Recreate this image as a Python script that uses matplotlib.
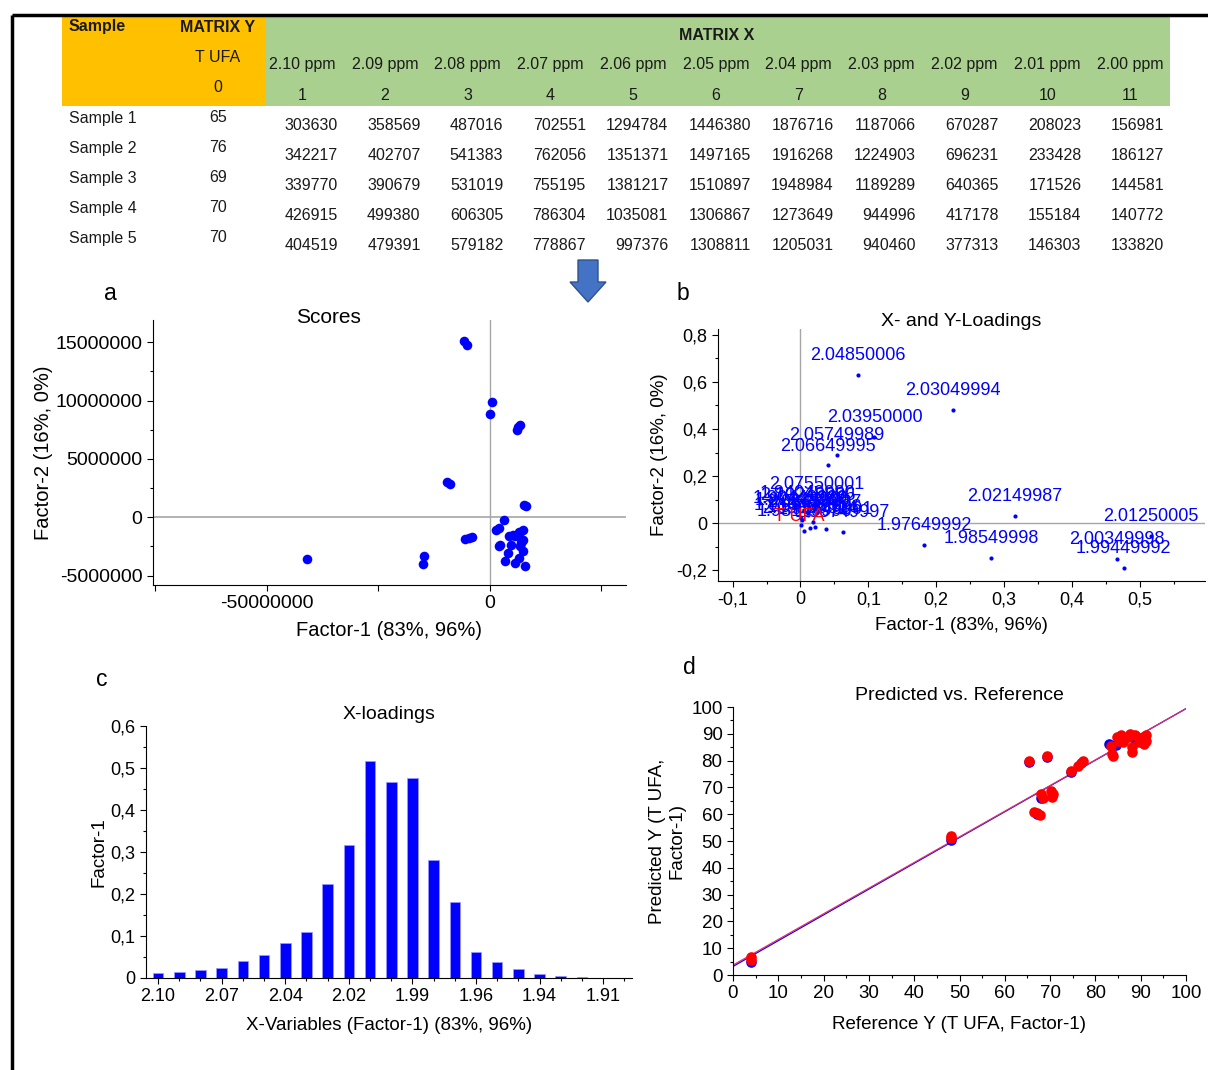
import matplotlib
matplotlib.use('Agg')
import matplotlib.pyplot as plt
import numpy as np
from matplotlib.patches import Rectangle, Polygon
from matplotlib.ticker import MultipleLocator, FixedLocator, FuncFormatter

plt.rcParams['font.family'] = ['Liberation Sans', 'DejaVu Sans']

# ---- table data
table_ppm = ['2.10 ppm', '2.09 ppm', '2.08 ppm', '2.07 ppm', '2.06 ppm', '2.05 ppm',
             '2.04 ppm', '2.03 ppm', '2.02 ppm', '2.01 ppm', '2.00 ppm']
table_samples = ['Sample 1', 'Sample 2', 'Sample 3', 'Sample 4', 'Sample 5']
table_tufa = [65, 76, 69, 70, 70]
table_x = [
    [303630, 358569, 487016, 702551, 1294784, 1446380, 1876716, 1187066, 670287, 208023, 156981],
    [342217, 402707, 541383, 762056, 1351371, 1497165, 1916268, 1224903, 696231, 233428, 186127],
    [339770, 390679, 531019, 755195, 1381217, 1510897, 1948984, 1189289, 640365, 171526, 144581],
    [426915, 499380, 606305, 786304, 1035081, 1306867, 1273649, 944996, 417178, 155184, 140772],
    [404519, 479391, 579182, 778867, 997376, 1308811, 1205031, 940460, 377313, 146303, 133820],
]

# ---- a: scores (millions)
scores_f1 = np.array([-5.78, -5.16, 0.44, 0.0, 6.85, 6.05, 6.3, -9.52, -8.99, 7.83, 8.19, 3.20,
                      2.05, 1.42, -5.43, -4.0, -4.7, -14.68, -15.04, -40.93,
                      4.45, 5.34, 6.49, 7.56, 6.94, 7.56, 4.89, 6.85, 7.56, 4.18, 6.49, 3.56,
                      5.78, 8.01, 2.05, 2.4, 5.78, 7.12]) * 1e6
scores_f2 = np.array([15.06, 14.8, 9.86, 8.86, 7.91, 7.51, 7.7, 3.06, 2.83, 1.09, 0.97, -0.26,
                      -0.91, -1.09, -1.86, -1.71, -1.78, -3.34, -3.97, -3.57,
                      -1.63, -1.49, -1.29, -1.11, -1.86, -1.91, -2.34, -2.49, -2.91, -3.06, -3.49, -3.77,
                      -3.91, -4.2, -2.49, -2.34, -1.63, -2.2]) * 1e6

# ---- b, c: x-loadings
variables = ['2.10249996', '2.09350014', '2.08450007', '2.07550001', '2.06649995', '2.05749989',
             '2.04850006', '2.03950000', '2.03049994', '2.02149987', '2.01250005', '2.00349998',
             '1.99449992', '1.98549998', '1.97649992', '1.96749997', '1.95849991', '1.94949996',
             '1.94049990', '1.93149996', '1.92249990', '1.91349995', '1.90449989']
load_f1 = [0.011, 0.0135, 0.019, 0.0235, 0.041, 0.054, 0.0845, 0.109, 0.224, 0.316, 0.516, 0.466,
           0.476, 0.281, 0.182, 0.062, 0.037, 0.021, 0.0104, 0.0056, 0.0024, 0.001, 0.0005]
load_f2 = [0.036, -0.022, 0.006, 0.081, 0.245, 0.291, 0.628, 0.366, 0.479, 0.031, -0.052, -0.152,
           -0.191, -0.148, -0.092, -0.038, -0.024, -0.017, 0.042, -0.032, 0.014, -0.008, 0.022]
y_loading = ('T UFA', -0.002, -0.055)
c_ticklabels = ['2.10', '2.07', '2.04', '2.02', '1.99', '1.96', '1.94', '1.91']

# ---- d: predicted vs reference
ref_cal = [3.9, 48.1, 65.3, 69.4, 68.1, 83.0, 84.5, 88.5, 90.5, 67.0, 74.6]
pred_cal = [5.0, 50.3, 79.6, 81.5, 65.9, 86.2, 86.0, 88.5, 88.0, 60.0, 75.8]
ref_val = [3.9, 3.9, 48.1, 48.1, 65.3, 69.4, 66.5, 67.2, 67.7, 68.1, 68.5, 70.2, 70.7, 70.5, 74.6,
           76.2, 76.8, 77.3, 83.4, 83.6, 83.8, 84.8, 85.6, 86.0, 87.2, 87.7, 88.0, 88.0, 88.8,
           89.6, 90.4, 90.8, 91.2, 91.2, 85.2, 86.5]
pred_val = [6.6, 5.6, 51.9, 51.0, 80.0, 81.9, 61.0, 60.3, 59.8, 67.5, 66.2, 68.8, 67.5, 66.5, 76.2,
            78.1, 79.2, 79.8, 85.5, 82.5, 81.9, 88.8, 89.4, 86.9, 88.8, 90.0, 83.1, 85.0, 89.4,
            86.9, 88.8, 86.2, 89.4, 87.5, 87.5, 88.5]
cal_fit = (0.962, 3.2)
val_fit = (0.957, 3.7)

W, H = 1208, 1070
fig = plt.figure(figsize=(W / 100, H / 100), dpi=100)


def box(l, t, r, b):
    return [l / W, 1 - b / H, (r - l) / W, (b - t) / H]


def comma(v, pos=None):
    if abs(v) < 1e-9:
        return '0'
    return f'{v:.1f}'.replace('.', ',')


# ---- background layer: frame, table, arrow
bg = fig.add_axes([0, 0, 1, 1])
bg.set_xlim(0, W)
bg.set_ylim(H, 0)
bg.axis('off')
bg.plot([12, W], [15, 15], c='k', lw=2.5, solid_capstyle='butt')
bg.plot([12, 12], [15, H], c='k', lw=2.5, solid_capstyle='butt')
bg.add_patch(Rectangle((62, 17), 203, 89, fc='#FFC000', ec='none'))
bg.add_patch(Rectangle((265, 17), 905, 89, fc='#A9D08E', ec='none'))
tk = dict(fontsize=11.5, va='center', color='#1a1a1a')
bg.text(69, 27, 'Sample', fontweight='bold', ha='left', **tk)
bg.text(218, 27, 'MATRIX Y', fontweight='bold', ha='center', **tk)
bg.text(218, 57, 'T UFA', ha='center', **tk)
bg.text(218, 88, '0', ha='center', **tk)
bg.text(717, 35, 'MATRIX X', fontweight='bold', ha='center', **tk)
col_c = np.linspace(302, 1130, len(table_ppm))
col_r = np.linspace(338, 1164, len(table_ppm))
for j, lab in enumerate(table_ppm):
    bg.text(col_c[j], 65, lab, ha='center', **tk)
    bg.text(col_c[j], 95, str(j + 1), ha='center', **tk)
for i, s in enumerate(table_samples):
    bg.text(69, 118 + 30 * i, s, ha='left', **tk)
    bg.text(218, 118 + 30 * i, str(table_tufa[i]), ha='center', **tk)
    for j, v in enumerate(table_x[i]):
        bg.text(col_r[j], 125 + 30 * i, str(v), ha='right', **tk)
bg.add_patch(Polygon([(578, 260), (598, 260), (598, 282), (606, 282), (588, 302), (570, 282), (578, 282)],
                     closed=True, fc='#4472C4', ec='#2F528F', lw=1))
for lab, (x, y) in zip('abcd', [(110, 294), (683, 294), (102, 679), (689, 667)]):
    bg.text(x, y, lab, fontsize=16.5, ha='center', va='center')


def style(ax, size):
    for s in ('top', 'right'):
        ax.spines[s].set_visible(False)
    ax.tick_params(labelsize=size, length=4, width=0.8)
    ax.tick_params(which='minor', length=2.5, width=0.8)


# ---- a
ax = fig.add_axes(box(153, 320, 626, 585))
style(ax, 14)
ax.axhline(0, c='0.65', lw=1.2, zorder=1)
ax.axvline(0, c='0.65', lw=1, zorder=1)
ax.scatter(scores_f1, scores_f2, s=48, c='#0000FF', zorder=3, linewidths=0)
ax.set_xlim(-75.5e6, 30.6e6)
ax.set_ylim(-5.8e6, 16.9e6)
ax.xaxis.set_major_locator(MultipleLocator(25e6))
ax.xaxis.set_major_formatter(FuncFormatter(lambda v, p: f'{v:.0f}' if v in (-50e6, 0) else ''))
ax.yaxis.set_major_locator(MultipleLocator(5e6))
ax.yaxis.set_minor_locator(MultipleLocator(2.5e6))
ax.yaxis.set_major_formatter(FuncFormatter(lambda v, p: f'{v:.0f}'))
ax.set_title('Scores', fontsize=15, x=0.37, y=1.011, pad=0, va='center')
ax.set_xlabel('Factor-1 (83%, 96%)', fontsize=14.5, labelpad=6)
ax.set_ylabel('Factor-2 (16%, 0%)', fontsize=14.5, labelpad=2)

# ---- b
ax = fig.add_axes(box(718, 329, 1205, 581))
style(ax, 13)
ax.axhline(0, c='0.65', lw=1, zorder=1)
ax.axvline(0, c='0.65', lw=1, zorder=1)
ax.scatter(load_f1, load_f2, s=9, c='#0000FF', zorder=3, linewidths=0)
for v, x, y in zip(variables, load_f1, load_f2):
    ax.annotate(v, (x, y), xytext=(0, 14), textcoords='offset points', ha='center', va='center',
                color='#0000FF', fontsize=13)
ax.annotate(y_loading[0], (y_loading[1], y_loading[2]), xytext=(0, 14), textcoords='offset points',
            ha='center', va='center', color='#FF0000', fontsize=13)
ax.set_xlim(-0.1215, 0.596)
ax.set_ylim(-0.245, 0.824)
ax.xaxis.set_major_locator(MultipleLocator(0.1))
ax.xaxis.set_minor_locator(MultipleLocator(0.05))
ax.yaxis.set_major_locator(MultipleLocator(0.2))
ax.yaxis.set_minor_locator(MultipleLocator(0.1))
ax.xaxis.set_major_formatter(FuncFormatter(comma))
ax.yaxis.set_major_formatter(FuncFormatter(comma))
ax.set_title('X- and Y-Loadings', fontsize=14, y=1.028, pad=0, va='center')
ax.set_xlabel('Factor-1 (83%, 96%)', fontsize=13.5, labelpad=6)
ax.set_ylabel('Factor-2 (16%, 0%)', fontsize=13.5, labelpad=6)

# ---- c
ax = fig.add_axes(box(146, 726, 632, 978))
style(ax, 13)
idx = np.arange(len(variables))
ax.bar(idx, load_f1, width=0.5, color='#0000FF', edgecolor='#9999FF', linewidth=0.5)
ax.set_xlim(-0.57, 22.36)
ax.set_ylim(0, 0.6)
ax.xaxis.set_major_locator(FixedLocator(idx[::3]))
ax.xaxis.set_major_formatter(FuncFormatter(lambda v, p: c_ticklabels[p] if p is not None and p < len(c_ticklabels) else ''))
ax.xaxis.set_minor_locator(FixedLocator(idx))
ax.yaxis.set_major_locator(MultipleLocator(0.1))
ax.yaxis.set_minor_locator(MultipleLocator(0.05))
ax.yaxis.set_major_formatter(FuncFormatter(comma))
ax.set_title('X-loadings', fontsize=14, pad=5)
ax.set_xlabel('X-Variables (Factor-1) (83%, 96%)', fontsize=13.5, labelpad=8)
ax.set_ylabel('Factor-1', fontsize=13.5, labelpad=2)

# ---- d
ax = fig.add_axes(box(733, 707, 1186, 975))
style(ax, 13.5)
xl = np.array([0, 100])
ax.plot(xl, cal_fit[0] * xl + cal_fit[1], c='#0000FF', lw=0.9)
ax.plot(xl, val_fit[0] * xl + val_fit[1], c='#E0306A', lw=0.9)
ax.scatter(ref_cal, pred_cal, s=58, c='#0000FF', zorder=3, linewidths=0)
ax.scatter(ref_val, pred_val, s=58, c='#FF0000', zorder=4, linewidths=0)
ax.set_xlim(0, 100)
ax.set_ylim(0, 100)
ax.xaxis.set_major_locator(MultipleLocator(10))
ax.xaxis.set_minor_locator(MultipleLocator(5))
ax.yaxis.set_major_locator(MultipleLocator(10))
ax.yaxis.set_minor_locator(MultipleLocator(5))
ax.set_title('Predicted vs. Reference', fontsize=14, pad=5)
ax.set_xlabel('Reference Y (T UFA, Factor-1)', fontsize=13.5, labelpad=10)
ax.set_ylabel('Predicted Y (T UFA,\nFactor-1)', fontsize=13.5, labelpad=4)

fig.savefig('out.png', dpi=100)
